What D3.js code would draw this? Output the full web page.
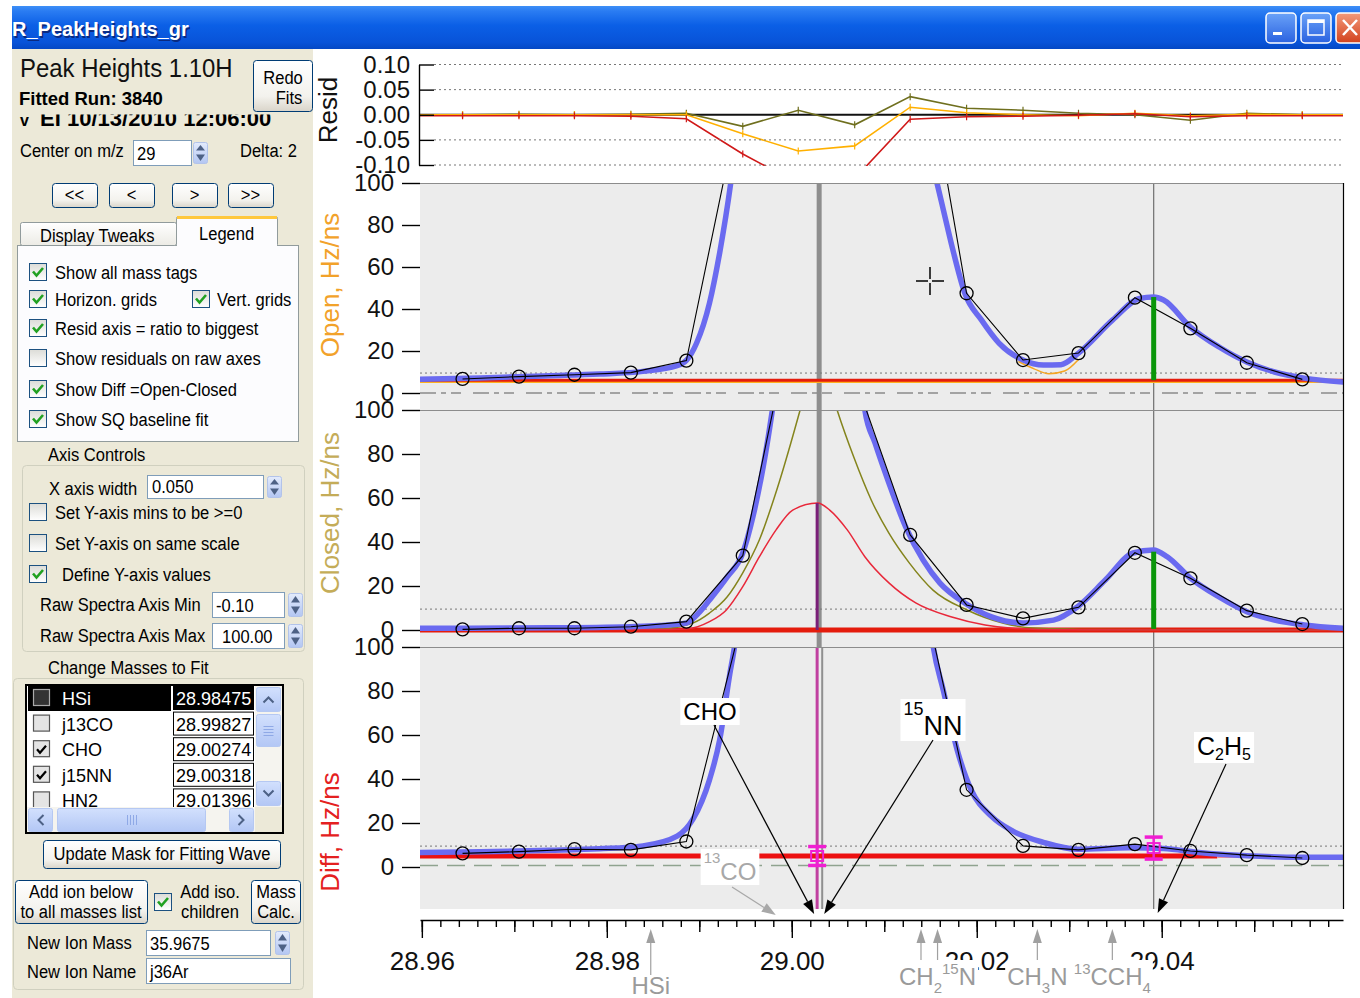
<!DOCTYPE html>
<html>
<head>
<meta charset="utf-8">
<title>R_PeakHeights_gr</title>
<script src="https://cdn.jsdelivr.net/npm/d3@7/dist/d3.min.js"></script>
<style>
  body { margin: 0; background: #fff; overflow: hidden; }
  svg { display: block; font-family: "Liberation Sans", Arial, sans-serif; }
</style>
</head>
<body>
<div class="chart"></div>
<script>
// ---- data ----
// raw spectrum points (mass, Hz/ns); the ones far above 100 are off scale estimates
let massPts = [28.9644, 28.9705, 28.9765, 28.9826, 28.9886, 28.9947, 29.0007, 29.0068,
               29.0128, 29.0189, 29.0250, 29.0310, 29.0371, 29.0431, 29.0492, 29.0552];
let openRaw   = [6.7, 7.8, 8.7, 9.7, 15.4, 144.8, 560, 480, 202, 47.5, 15.7, 19.0, 45.4, 30.8, 14.4, 6.5];
let closedRaw = [0.3, 0.8, 0.8, 1.5, 3.8, 33.8, 155, 115, 43.2, 11.4, 5.3, 10.3, 35.1, 23.5, 8.8, 2.7];
let diffRaw   = [6.2, 7.0, 8.1, 7.8, 11.6, 113.7, 420, 370, 151, 35.1, 9.6, 7.8, 10.4, 7.3, 5.4, 4.1];

// residuals (ratio to biggest)
let residOlive  = [0.000, 0.001, 0.000, 0.001, 0.003, -0.023, 0.009, -0.020, 0.036, 0.013, 0.009, 0.003, 0.000, -0.011, 0.003, 0.000];
let residOrange = [0.000, 0.000, 0.000, 0.000, 0.000, -0.038, -0.072, -0.062, 0.015, 0.004, 0.000, -0.002, 0.003, -0.002, 0.001, 0.000];
let residRed    = [-0.002, -0.002, -0.002, -0.003, -0.008, -0.078, -0.137, -0.127, -0.009, -0.004, -0.003, -0.001, 0.002, -0.004, -0.002, -0.002];
let residTicks  = [-0.10, -0.05, 0.00, 0.05, 0.10];
let residTickLabels = ['-0.10', '-0.05', '0.00', '0.05', '0.10'];

// fitted curves
let openFitMass = [28.9598, 28.9663, 28.9738, 28.9792, 28.9839, 28.9876, 28.9886, 28.9897, 28.9911, 28.9922, 28.9934, 28.9945,
  29.0030,
  29.0144, 29.0157, 29.0164, 29.0175, 29.0187, 29.0205, 29.0224, 29.0250, 29.0272, 29.0291, 29.0310, 29.0347,
  29.0376, 29.0391, 29.0402, 29.0431, 29.0462, 29.0492, 29.0522, 29.0554, 29.0596];
let openFit = [6.5, 7.2, 8.2, 9.0, 10.3, 13.0, 15.5, 23.7, 42.8, 66.7, 100, 140,
  1500,
  125, 100, 87, 66.7, 47.6, 34.8, 23.8, 15.7, 13.3, 13.5, 19.0, 34.8,
  45.0, 45.7, 44.3, 31.4, 21.9, 14.8, 10.0, 7.1, 5.2];
let openCompMass = [29.0245, 29.0262, 29.0278, 29.0295, 29.0310];
let openComp = [15.0, 11.5, 9.2, 10.5, 16.0];

let closedFitMass = [28.9598, 28.9738, 28.9825, 28.9857, 28.9886, 28.9900, 28.9911, 28.9930, 28.9947, 28.9958, 28.9969, 28.9979, 28.9990,
  29.0030,
  29.0068, 29.0079, 29.0090, 29.0105, 29.0123, 29.0142, 29.0160, 29.0187, 29.0216, 29.0250, 29.0283,
  29.0309, 29.0339, 29.0369, 29.0391, 29.0406, 29.0431, 29.0462, 29.0492, 29.0522, 29.0554, 29.0596];
let closedFit = [0.8, 1.0, 1.5, 2.0, 3.2, 8.0, 13.6, 24, 35, 51.5, 74, 100, 135,
  1500,
  150, 100, 85, 66.8, 47, 31.8, 21.4, 12.3, 6.0, 3.2, 4.5,
  10.6, 22.7, 35.0, 36.4, 33.3, 23.6, 15.0, 8.3, 4.5, 2.3, 0.8];
let closedCompAMass = [28.9598, 28.9857, 28.9893, 28.9911, 28.9930, 28.9947, 28.9965, 28.9984, 29.0009, 29.0028, 29.0049,
  29.0067, 29.0086, 29.0105, 29.0127, 29.0153, 29.0190, 29.0228, 29.0261, 29.0333, 29.0596];
let closedCompA = [0, 0.5, 3.2, 7.7, 15, 26, 41, 64, 100, 130, 100, 78.6, 59, 44, 30.5, 18, 9, 3.2, 0.9, 0.2, 0];
let closedCompBMass = [28.9598, 28.9846, 28.9886, 28.9911, 28.9929, 28.9947, 28.9965, 28.9983, 29.0001, 29.0028,
  29.0041, 29.0060, 29.0079, 29.0105, 29.0134, 29.0172, 29.0209, 29.0239, 29.0290, 29.0596];
let closedCompB = [0, 0.2, 0.5, 3.8, 9, 19.7, 33.3, 45.5, 54.5, 57.7, 54.5, 45.5, 33.3, 21.4, 12.3, 6.0, 2.3, 0.8, 0.1, 0];

let diffFitMass = [28.9598, 28.9663, 28.9738, 28.9792, 28.9839, 28.9876, 28.9893, 28.9911, 28.9922, 28.9933, 28.9938, 28.9946,
  29.0030,
  29.0144, 29.0153, 29.0164, 29.0179, 29.0194, 29.0216, 29.0239, 29.0272, 29.0309, 29.0365, 29.0402, 29.0440, 29.0492, 29.0551, 29.0596];
let diffFit = [6.6, 6.9, 7.6, 8.3, 9.6, 14.0, 21.6, 39.6, 57.7, 87.8, 100, 130,
  1500,
  130, 100, 80, 53, 35, 23, 16.3, 11.2, 8.1, 8.8, 8.4, 6.6, 5.1, 4.4, 4.4];

// baselines and levels
let openBaseRed = 6.1, openBaseOrange = 5.5, closedBase = 0, diffBase = 5.0;
let diffBaseEnd = 29.0460, diffPinkEnd = 29.0520;
let noiseLevel = 9.5, openSQ = 0, diffSQ = 0.7;

// peak heights and error bars
let choMass = 29.00274, nnMass = 29.00318, c2h5Mass = 29.03913;
let c2h5Open = [6.1, 45.7], c2h5Closed = [0.5, 35.6], choClosed = [0, 57.7];
let errMass = [29.00274, 29.03913], errVal = [5.0, 8.6], errPm = [4.3, 5.0];

// mass tags
let topTagNames = ['CHO', '15NN', 'C2H5', '13CO'];
let topTagMasses = [29.00274, 29.00318, 29.03913, 28.99827];
let bottomTagNames = ['HSi', 'HN2', 'CH2 15N', 'CH3N', '13CCH4'];
let bottomTagMasses = [28.98475, 29.01397, 29.01576, 29.02655, 29.03466];
let tagText = {
  'CHO': [['CHO', 'n']],
  '15NN': [['15', 'sup'], ['NN', 'n']],
  'C2H5': [['C', 'n'], ['2', 'sub'], ['H', 'n'], ['5', 'sub']],
  '13CO': [['13', 'sup'], ['CO', 'n']],
  'HSi': [['HSi', 'n']],
  'HN2': [],
  'CH2 15N': [['CH', 'n'], ['2', 'sub'], ['15', 'sup'], ['N', 'n']],
  'CH3N': [['CH', 'n'], ['3', 'sub'], ['N', 'n']],
  '13CCH4': [['13', 'sup'], ['CCH', 'n'], ['4', 'sub']]
};

let xTickValues = [28.96, 28.98, 29.00, 29.02, 29.04];
let xTickLabels = ['28.96', '28.98', '29.00', '29.02', '29.04'];
let yTickValues = [0, 20, 40, 60, 80, 100];

// list of masses in the panel
let listNames = ['HSi', 'j13CO', 'CHO', 'j15NN', 'HN2'];
let listMasses = ['28.98475', '28.99827', '29.00274', '29.00318', '29.01396'];
let listChecked = [false, false, true, true, false];

// ---- page ----
let svg = d3.select('.chart').append('svg').attr('width', 1360).attr('height', 998);
let defs = svg.append('defs');

function vGrad(id, stops) {
  let gr = defs.append('linearGradient').attr('id', id).attr('x1', 0).attr('y1', 0).attr('x2', 0).attr('y2', 1);
  stops.forEach(s => gr.append('stop').attr('offset', s[0]).attr('stop-color', s[1]));
}
vGrad('gTitle', [[0, '#3d8ff7'], [0.12, '#2a7cf2'], [0.45, '#0b5fe6'], [0.85, '#0853d8'], [1, '#0448c4']]);
vGrad('gBtn', [[0, '#ffffff'], [0.7, '#f3f2ed'], [1, '#d9d4c9']]);
vGrad('gChk', [[0, '#dcdcd7'], [1, '#ffffff']]);
vGrad('gSpin', [[0, '#e3ebfc'], [1, '#b3c6f2']]);
vGrad('gTab', [[0, '#ffffff'], [1, '#ecebe5']]);
vGrad('gTbBtn', [[0, '#6aa2f8'], [1, '#2a62e0']]);
vGrad('gTbClose', [[0, '#f39a7a'], [1, '#d2421e']]);
vGrad('gScroll', [[0, '#d2e0fd'], [1, '#b3c7f5']]);

// window chrome
svg.append('rect').attr('x', 12).attr('y', 6).attr('width', 1348).attr('height', 43).attr('fill', 'url(#gTitle)');
svg.append('text').attr('x', 13.5).attr('y', 37.5).attr('font-size', 20).attr('font-weight', 'bold')
  .attr('fill', '#0a2a80').text('R_PeakHeights_gr');
svg.append('text').attr('x', 12).attr('y', 36).attr('font-size', 20).attr('font-weight', 'bold')
  .attr('fill', '#fff').text('R_PeakHeights_gr');

let tb = svg.append('g');
[1266, 1301].forEach(bx => {
  tb.append('rect').attr('x', bx).attr('y', 13).attr('width', 30).attr('height', 30).attr('rx', 4)
    .attr('fill', 'url(#gTbBtn)').attr('stroke', '#fff').attr('stroke-width', 1.5);
});
tb.append('rect').attr('x', 1273).attr('y', 32).attr('width', 9).attr('height', 3).attr('fill', '#fff');
tb.append('rect').attr('x', 1308).attr('y', 20).attr('width', 16).attr('height', 15).attr('fill', 'none')
  .attr('stroke', '#fff').attr('stroke-width', 1.5);
tb.append('rect').attr('x', 1308).attr('y', 20).attr('width', 16).attr('height', 3).attr('fill', '#fff');
tb.append('rect').attr('x', 1336).attr('y', 13).attr('width', 30).attr('height', 30).attr('rx', 4)
  .attr('fill', 'url(#gTbClose)').attr('stroke', '#fff').attr('stroke-width', 1.5);
tb.append('path').attr('d', 'M1343,20 L1357,35 M1357,20 L1343,35').attr('stroke', '#fff').attr('stroke-width', 2.5);

// ---- left control panel ----
let ctl = svg.append('g');
ctl.append('rect').attr('x', 12).attr('y', 49).attr('width', 301).attr('height', 949).attr('fill', '#ece9d8');

function ui(g, x, y, str, o) {
  o = o || {};
  let t = g.append('text')
    .attr('transform', 'translate(' + x + ',' + y + ') scale(' + (o.sx || 0.87) + ',1)')
    .attr('font-size', o.size || 19)
    .attr('fill', o.fill || '#000')
    .text(str);
  if (o.anchor) t.attr('text-anchor', o.anchor);
  if (o.bold) t.attr('font-weight', 'bold');
  return t;
}
function button(g, x, y, w, h, lines) {
  g.append('rect').attr('x', x + 0.5).attr('y', y + 0.5).attr('width', w).attr('height', h).attr('rx', 3)
    .attr('fill', 'url(#gBtn)').attr('stroke', '#003c74');
  lines.forEach(l => ui(g, l[1], l[2], l[0], {anchor: 'middle'}));
}
function checkbox(g, x, y, on) {
  g.append('rect').attr('x', x + 0.5).attr('y', y + 0.5).attr('width', 17).attr('height', 17)
    .attr('fill', 'url(#gChk)').attr('stroke', '#1c5180');
  if (on) g.append('path').attr('d', 'M' + (x + 4) + ',' + (y + 8.5) + ' l3.5,4 l6.5,-7.5')
    .attr('fill', 'none').attr('stroke', '#21a121').attr('stroke-width', 2.6);
}
function spinner(g, x, y, h) {
  g.append('rect').attr('x', x + 0.5).attr('y', y + 0.5).attr('width', 14).attr('height', h).attr('rx', 2)
    .attr('fill', 'url(#gSpin)').attr('stroke', '#b2c3ea');
  let m = y + h / 2;
  g.append('path').attr('d', 'M' + (x + 3) + ',' + (m - 2) + ' L' + (x + 7.5) + ',' + (y + 3) + ' L' + (x + 12) + ',' + (m - 2) + 'Z').attr('fill', '#4d6185');
  g.append('path').attr('d', 'M' + (x + 3) + ',' + (m + 2) + ' L' + (x + 7.5) + ',' + (y + h - 2) + ' L' + (x + 12) + ',' + (m + 2) + 'Z').attr('fill', '#4d6185');
}
function inputBox(g, x, y, w, h, val, tx) {
  g.append('rect').attr('x', x + 0.5).attr('y', y + 0.5).attr('width', w).attr('height', h)
    .attr('fill', '#fff').attr('stroke', '#7f9db9');
  ui(g, tx || x + 5, y + h - 5, val);
}

ui(ctl, 20, 77, 'Peak Heights 1.10H', {size: 26, sx: 0.92, fill: '#111'});
button(ctl, 253, 60, 59, 51, [['Redo', 283, 84], ['Fits', 289, 104]]);
ui(ctl, 19, 105, 'Fitted Run: 3840', {size: 18.5, sx: 1, bold: true});
defs.append('clipPath').attr('id', 'cDate').append('rect').attr('x', 12).attr('y', 114.5).attr('width', 300).attr('height', 20);
let dateLine = ctl.append('g').attr('clip-path', 'url(#cDate)');
ui(dateLine, 20, 126, 'v', {size: 16, sx: 1, bold: true});
ui(dateLine, 40, 126, 'EI', {size: 22, sx: 1, bold: true});
ui(dateLine, 67, 126, '10/13/2010 12:06:00', {size: 22, sx: 1, bold: true});

ui(ctl, 20, 157, 'Center on m/z');
inputBox(ctl, 133, 140, 58, 25, '29', 137);
spinner(ctl, 193, 142, 21);
ui(ctl, 240, 157, 'Delta: 2');

[[52, '<<'], [109, '<'], [172, '>'], [228, '>>']].forEach(b => {
  button(ctl, b[0], 183, 45, 24, [[b[1], b[0] + 22.5, 201]]);
});

// tab control
ctl.append('rect').attr('x', 17.5).attr('y', 245.5).attr('width', 281).attr('height', 196)
  .attr('fill', '#fcfcfe').attr('stroke', '#919b9c');
ctl.append('rect').attr('x', 20.5).attr('y', 222.5).attr('width', 156).attr('height', 23).attr('rx', 2)
  .attr('fill', 'url(#gTab)').attr('stroke', '#919b9c');
ui(ctl, 40, 242, 'Display Tweaks');
ctl.append('rect').attr('x', 176.5).attr('y', 216.5).attr('width', 101).attr('height', 30).attr('rx', 2)
  .attr('fill', '#fcfcfe').attr('stroke', '#919b9c');
ctl.append('rect').attr('x', 177).attr('y', 216).attr('width', 100).attr('height', 3).attr('fill', '#ffc83c');
ctl.append('rect').attr('x', 177).attr('y', 244).attr('width', 100).attr('height', 3).attr('fill', '#fcfcfe');
ui(ctl, 199, 240, 'Legend');

let legendRows = [
  [272, 'Show all mass tags', true],
  [299, 'Horizon. grids', true],
  [328, 'Resid axis = ratio to biggest', true],
  [358, 'Show residuals on raw axes', false],
  [389, 'Show Diff =Open-Closed', true],
  [419, 'Show SQ baseline fit', true]
];
legendRows.forEach(r => {
  checkbox(ctl, 29, r[0] - 9, r[2]);
  ui(ctl, 55, r[0] + 7, r[1]);
});
checkbox(ctl, 192, 290, true);
ui(ctl, 217, 306, 'Vert. grids');

// axis controls group
ui(ctl, 48, 461, 'Axis Controls');
ctl.append('rect').attr('x', 22.5).attr('y', 465.5).attr('width', 282).attr('height', 186).attr('rx', 4)
  .attr('fill', 'none').attr('stroke', '#d0d0bf');
ui(ctl, 49, 495, 'X axis width');
inputBox(ctl, 147, 475, 116, 23, '0.050', 152);
spinner(ctl, 267, 476, 21);
checkbox(ctl, 29, 503, false);
ui(ctl, 55, 519, 'Set Y-axis mins to be >=0');
checkbox(ctl, 29, 534, false);
ui(ctl, 55, 550, 'Set Y-axis on same scale');
checkbox(ctl, 29, 565, true);
ui(ctl, 62, 581, 'Define Y-axis values');
ui(ctl, 40, 611, 'Raw Spectra Axis Min');
inputBox(ctl, 212, 592, 72, 25, '-0.10', 216);
spinner(ctl, 288, 593, 23);
ui(ctl, 40, 642, 'Raw Spectra Axis Max');
inputBox(ctl, 212, 623, 72, 25, '100.00', 222);
spinner(ctl, 288, 624, 23);

// masses group
ui(ctl, 48, 674, 'Change Masses to Fit');
ctl.append('rect').attr('x', 13.5).attr('y', 678.5).attr('width', 290).attr('height', 311).attr('rx', 4)
  .attr('fill', 'none').attr('stroke', '#d0d0bf');
ctl.append('rect').attr('x', 26).attr('y', 685).attr('width', 257).attr('height', 148)
  .attr('fill', '#fff').attr('stroke', '#000').attr('stroke-width', 2);
defs.append('clipPath').attr('id', 'cList').append('rect').attr('x', 27).attr('y', 686).attr('width', 228).attr('height', 121);
let list = ctl.append('g').attr('clip-path', 'url(#cList)');
listNames.forEach((n, i) => {
  let cy = 698 + i * 25.6;
  let sel = i === 0;
  if (sel) {
    list.append('rect').attr('x', 28).attr('y', cy - 12).attr('width', 143).attr('height', 25).attr('fill', '#000');
  }
  list.append('rect').attr('x', 33.5).attr('y', cy - 8.5).attr('width', 16).attr('height', 16)
    .attr('fill', sel ? '#333' : '#e4e4e4').attr('stroke', sel ? '#aaa' : '#555').attr('stroke-width', 1.2);
  if (listChecked[i]) {
    list.append('path').attr('d', 'M' + 37 + ',' + (cy) + ' l3,3.5 l6,-7').attr('fill', 'none')
      .attr('stroke', '#000').attr('stroke-width', 2.2);
  }
  ui(list, 62, cy + 7, n, {sx: 0.95, fill: sel ? '#fff' : '#000'});
  list.append('rect').attr('x', 173.5).attr('y', cy - 11.5).attr('width', 80).attr('height', 23)
    .attr('fill', sel ? '#000' : '#fff').attr('stroke', '#000');
  ui(list, 176, cy + 7, listMasses[i], {sx: 0.95, fill: sel ? '#fff' : '#000'});
});
// scrollbars
ctl.append('rect').attr('x', 255).attr('y', 686).attr('width', 27).attr('height', 121).attr('fill', '#f5f4ef');
function scrollBtn(x, y, w, h, arrow) {
  ctl.append('rect').attr('x', x + 0.5).attr('y', y + 0.5).attr('width', w).attr('height', h).attr('rx', 2)
    .attr('fill', 'url(#gScroll)').attr('stroke', '#b5c8f2');
  let cx = x + w / 2 + 0.5, cy = y + h / 2 + 0.5, d;
  if (arrow === 'up') d = 'M' + (cx - 5) + ',' + (cy + 3) + ' l5,-5 l5,5';
  if (arrow === 'down') d = 'M' + (cx - 5) + ',' + (cy - 3) + ' l5,5 l5,-5';
  if (arrow === 'left') d = 'M' + (cx + 3) + ',' + (cy - 5) + ' l-5,5 l5,5';
  if (arrow === 'right') d = 'M' + (cx - 3) + ',' + (cy - 5) + ' l5,5 l-5,5';
  if (arrow === 'gripV') d = 'M' + (cx - 5) + ',' + (cy - 4) + ' h10 M' + (cx - 5) + ',' + (cy - 1) + ' h10 M' + (cx - 5) + ',' + (cy + 2) + ' h10 M' + (cx - 5) + ',' + (cy + 5) + ' h10';
  if (arrow === 'gripH') d = 'M' + (cx - 4) + ',' + (cy - 5) + ' v10 M' + (cx - 1) + ',' + (cy - 5) + ' v10 M' + (cx + 2) + ',' + (cy - 5) + ' v10 M' + (cx + 5) + ',' + (cy - 5) + ' v10';
  ctl.append('path').attr('d', d).attr('fill', 'none')
    .attr('stroke', arrow.indexOf('grip') === 0 ? '#8fa9e6' : '#4d6185').attr('stroke-width', arrow.indexOf('grip') === 0 ? 1 : 2);
}
scrollBtn(256, 687, 24, 24, 'up');
scrollBtn(256, 714, 24, 32, 'gripV');
scrollBtn(256, 781, 24, 24, 'down');
ctl.append('rect').attr('x', 27).attr('y', 807).attr('width', 228).attr('height', 25).attr('fill', '#f5f4ef');
scrollBtn(28, 808, 24, 23, 'left');
scrollBtn(57, 808, 148, 23, 'gripH');
scrollBtn(229, 808, 24, 23, 'right');
ctl.append('rect').attr('x', 255).attr('y', 807).attr('width', 27).attr('height', 25).attr('fill', '#ece9d8');

button(ctl, 43, 840, 237, 28, [['Update Mask for Fitting Wave', 162, 860]]);
button(ctl, 15, 880, 132, 43, [['Add ion below', 81, 898], ['to all masses list', 81, 918]]);
checkbox(ctl, 154, 893, true);
ui(ctl, 210, 898, 'Add iso.', {anchor: 'middle'});
ui(ctl, 210, 918, 'children', {anchor: 'middle'});
button(ctl, 251, 880, 49, 43, [['Mass', 276, 898], ['Calc.', 276, 918]]);
ui(ctl, 27, 949, 'New Ion Mass');
inputBox(ctl, 146, 930, 124, 25, '35.9675', 150);
spinner(ctl, 275, 931, 23);
ui(ctl, 27, 978, 'New Ion Name');
inputBox(ctl, 146, 958, 144, 25, 'j36Ar', 150);

// ---- plots ----
let plotL = 420, plotR = 1343;
let x = d3.scaleLinear().domain([28.9598, 29.0596]).range([plotL, plotR]);
let yResid = d3.scaleLinear().domain([-0.10, 0.10]).range([165, 64.5]);
let yOpen = d3.scaleLinear().domain([0, 100]).range([393, 183]);
let yClosed = d3.scaleLinear().domain([0, 100]).range([630, 410]);
let yDiff = d3.scaleLinear().domain([0, 100]).range([867, 647]);

let zip = (a, b) => a.map((m, i) => [m, b[i]]);
let lineOf = (ys, curve) => d3.line().x(d => x(d[0])).y(d => ys(d[1])).curve(curve || d3.curveLinear);

function clip(id, y0, y1) {
  defs.append('clipPath').attr('id', id).append('rect')
    .attr('x', plotL).attr('y', y0).attr('width', plotR - plotL).attr('height', y1 - y0);
}
clip('cResid', 62, 166);
clip('cOpen', 183, 410);
clip('cClosed', 410, 647);
clip('cDiff', 647, 909);

let panels = [
  {ys: yOpen, top: 183, bottom: 410, clip: 'cOpen'},
  {ys: yClosed, top: 410, bottom: 647, clip: 'cClosed'},
  {ys: yDiff, top: 647, bottom: 909, clip: 'cDiff'}
];
let plot = svg.append('g');
panels.forEach(p => {
  plot.append('rect').attr('x', plotL).attr('y', p.top).attr('width', plotR - plotL).attr('height', p.bottom - p.top)
    .attr('fill', '#ececec');
});

// mass marker verticals
plot.append('line').attr('x1', x((choMass + nnMass) / 2)).attr('x2', x((choMass + nnMass) / 2))
  .attr('y1', 183).attr('y2', 647).attr('stroke', '#8e8e8e').attr('stroke-width', 5);
plot.append('line').attr('x1', x(nnMass) + 1).attr('x2', x(nnMass) + 1)
  .attr('y1', 647).attr('y2', 909).attr('stroke', '#909090').attr('stroke-width', 2);
plot.append('line').attr('x1', x(c2h5Mass)).attr('x2', x(c2h5Mass))
  .attr('y1', 183).attr('y2', 909).attr('stroke', '#6f6f6f').attr('stroke-width', 1.2);

// horizontal guide lines
panels.forEach(p => {
  let g = plot.append('g').attr('clip-path', 'url(#' + p.clip + ')');
  g.append('line').attr('x1', plotL).attr('x2', plotR).attr('y1', p.ys(noiseLevel)).attr('y2', p.ys(noiseLevel))
    .attr('stroke', '#777').attr('stroke-width', 1).attr('stroke-dasharray', '2,3');
  p.g = g;
});
panels[0].g.append('line').attr('x1', plotL).attr('x2', plotR).attr('y1', yOpen(openSQ)).attr('y2', yOpen(openSQ))
  .attr('stroke', '#8a8a8a').attr('stroke-width', 1.6).attr('stroke-dasharray', '16,5,5,5,10,12');
panels[2].g.append('line').attr('x1', plotL).attr('x2', plotR).attr('y1', yDiff(diffSQ)).attr('y2', yDiff(diffSQ))
  .attr('stroke', '#8fa38f').attr('stroke-width', 1.6).attr('stroke-dasharray', '18,9');

// open panel
let gO = panels[0].g;
gO.append('line').attr('x1', plotL).attr('x2', plotR).attr('y1', yOpen(openBaseOrange)).attr('y2', yOpen(openBaseOrange))
  .attr('stroke', '#ffb020').attr('stroke-width', 3);
gO.append('line').attr('x1', plotL).attr('x2', plotR).attr('y1', yOpen(openBaseRed)).attr('y2', yOpen(openBaseRed))
  .attr('stroke', '#e41b0c').attr('stroke-width', 3);
gO.append('path').attr('d', lineOf(yOpen, d3.curveMonotoneX)(zip(openCompMass, openComp)))
  .attr('fill', 'none').attr('stroke', '#f5a623').attr('stroke-width', 1.5);

// closed panel
let gC = panels[1].g;
gC.append('line').attr('x1', plotL).attr('x2', plotR).attr('y1', yClosed(closedBase)).attr('y2', yClosed(closedBase))
  .attr('stroke', '#e41b0c').attr('stroke-width', 5);
gC.append('path').attr('d', lineOf(yClosed, d3.curveMonotoneX)(zip(closedCompAMass, closedCompA)))
  .attr('fill', 'none').attr('stroke', '#84841c').attr('stroke-width', 1.5);
gC.append('path').attr('d', lineOf(yClosed, d3.curveMonotoneX)(zip(closedCompBMass, closedCompB)))
  .attr('fill', 'none').attr('stroke', '#e8283a').attr('stroke-width', 1.5);

// diff panel
let gD = panels[2].g;
gD.append('line').attr('x1', plotL).attr('x2', x(diffBaseEnd)).attr('y1', yDiff(diffBase)).attr('y2', yDiff(diffBase))
  .attr('stroke', '#ec1010').attr('stroke-width', 5);
gD.append('line').attr('x1', x(diffBaseEnd)).attr('x2', x(diffPinkEnd)).attr('y1', yDiff(diffBase)).attr('y2', yDiff(diffBase))
  .attr('stroke', '#f39090').attr('stroke-width', 4);
gD.append('line').attr('x1', x(choMass)).attr('x2', x(choMass)).attr('y1', 647).attr('y2', 909)
  .attr('stroke', '#c040a0').attr('stroke-width', 3);

// fits, data
let fits = [[openFitMass, openFit], [closedFitMass, closedFit], [diffFitMass, diffFit]];
let raws = [openRaw, closedRaw, diffRaw];
panels.forEach((p, i) => {
  let fitLine = lineOf(p.ys, d3.curveMonotoneX)(zip(fits[i][0], fits[i][1]));
  p.g.append('path').attr('d', fitLine).attr('fill', 'none').attr('stroke', '#6a6af0')
    .attr('stroke-width', 5.5).attr('stroke-linejoin', 'round').attr('stroke-linecap', 'round');
  let pts = zip(massPts, raws[i]);
  p.g.append('path').attr('d', lineOf(p.ys)(pts)).attr('fill', 'none').attr('stroke', '#000').attr('stroke-width', 1.1);
  p.g.selectAll('circle.pt').data(pts).join('circle').attr('class', 'pt')
    .attr('cx', d => x(d[0])).attr('cy', d => p.ys(d[1])).attr('r', 6.5)
    .attr('fill', 'none').attr('stroke', '#000').attr('stroke-width', 1.3);
});

// peak-height sticks
gO.append('line').attr('x1', x(c2h5Mass)).attr('x2', x(c2h5Mass)).attr('y1', yOpen(c2h5Open[0])).attr('y2', yOpen(c2h5Open[1]))
  .attr('stroke', '#0a960a').attr('stroke-width', 5);
gC.append('line').attr('x1', x(c2h5Mass)).attr('x2', x(c2h5Mass)).attr('y1', yClosed(c2h5Closed[0])).attr('y2', yClosed(c2h5Closed[1]))
  .attr('stroke', '#0a960a').attr('stroke-width', 5);
gC.append('line').attr('x1', x(choMass)).attr('x2', x(choMass)).attr('y1', yClosed(choClosed[0])).attr('y2', yClosed(choClosed[1]))
  .attr('stroke', '#7a1f78').attr('stroke-width', 3);

// error bars in diff
errMass.forEach((m, i) => {
  let cx = x(m), yc = yDiff(errVal[i]), y0 = yDiff(errVal[i] - errPm[i]), y1 = yDiff(errVal[i] + errPm[i]);
  gD.append('line').attr('x1', cx).attr('x2', cx).attr('y1', y0).attr('y2', y1).attr('stroke', '#f01ed2').attr('stroke-width', 2.5);
  [y0, y1].forEach(yy => gD.append('line').attr('x1', cx - 9).attr('x2', cx + 9).attr('y1', yy).attr('y2', yy)
    .attr('stroke', '#f01ed2').attr('stroke-width', 3.5));
  gD.append('rect').attr('x', cx - 6).attr('y', yc - 5).attr('width', 12).attr('height', 10)
    .attr('fill', 'none').attr('stroke', '#f01ed2').attr('stroke-width', 2);
});

// panel borders
panels.forEach(p => {
  plot.append('line').attr('x1', plotL).attr('x2', plotR).attr('y1', p.top + 0.5).attr('y2', p.top + 0.5)
    .attr('stroke', '#8c8c8c').attr('stroke-width', 1.2);
});
plot.append('line').attr('x1', plotR + 0.5).attr('x2', plotR + 0.5).attr('y1', 183).attr('y2', 909)
  .attr('stroke', '#000').attr('stroke-width', 1.2);

// residual panel
let gR = plot.append('g').attr('clip-path', 'url(#cResid)');
residTicks.forEach(v => {
  if (v === 0) return;
  plot.append('line').attr('x1', 434).attr('x2', plotR).attr('y1', yResid(v)).attr('y2', yResid(v))
    .attr('stroke', '#777').attr('stroke-width', 1).attr('stroke-dasharray', '2,3');
});
gR.append('line').attr('x1', plotL).attr('x2', plotR).attr('y1', yResid(0)).attr('y2', yResid(0))
  .attr('stroke', '#111').attr('stroke-width', 2.2);
[[residOlive, '#6f6f1e'], [residOrange, '#ffb000'], [residRed, '#d01818']].forEach(s => {
  let pts = zip(massPts, s[0]);
  let ext = [[x.invert(plotL), s[0][0]]].concat(pts, [[x.invert(plotR), s[0][s[0].length - 1]]]);
  gR.append('path').attr('d', lineOf(yResid)(ext))
    .attr('fill', 'none').attr('stroke', s[1]).attr('stroke-width', 1.6);
  pts.forEach(d => gR.append('line').attr('x1', x(d[0])).attr('x2', x(d[0]))
    .attr('y1', yResid(d[1]) - 3.5).attr('y2', yResid(d[1]) + 3.5).attr('stroke', s[1]).attr('stroke-width', 1.2));
});

// ---- axes ----
function styleAxis(g, size) {
  g.attr('font-family', '"Liberation Sans", Arial, sans-serif').attr('font-size', size);
  g.selectAll('.tick line').attr('stroke', '#000').attr('stroke-width', 1.4);
  g.selectAll('.tick text').attr('fill', '#111');
}
let ra = svg.append('g').attr('transform', 'translate(419,0)')
  .call(d3.axisLeft(yResid).tickValues(residTicks).tickSizeInner(-15).tickSizeOuter(0).tickPadding(9)
    .tickFormat((d, i) => residTickLabels[i]));
styleAxis(ra, 24);
ra.select('.domain').attr('stroke', '#000').attr('stroke-width', 1.4);

panels.forEach(p => {
  let a = svg.append('g').attr('transform', 'translate(' + plotL + ',0)')
    .call(d3.axisLeft(p.ys).tickValues(yTickValues).tickSize(18).tickPadding(8));
  a.select('.domain').remove();
  styleAxis(a, 24);
});

let xa = svg.append('g').attr('transform', 'translate(0,920)');
xa.append('g').call(d3.axisBottom(x).tickValues(x.ticks(50)).tickSize(7).tickSizeOuter(0).tickFormat(''))
  .call(g => g.select('.domain').remove()).call(g => styleAxis(g, 26));
xa.append('g').call(d3.axisBottom(x).tickValues(x.ticks(10)).tickSize(12).tickSizeOuter(0).tickFormat(''))
  .call(g => g.select('.domain').remove()).call(g => styleAxis(g, 26));
let xMajor = xa.append('g').call(d3.axisBottom(x).tickValues(xTickValues).tickSize(18).tickSizeOuter(0).tickPadding(14)
  .tickFormat((d, i) => xTickLabels[i]));
styleAxis(xMajor, 26);
xMajor.select('.domain').attr('stroke', '#000').attr('stroke-width', 1.4);

// axis titles
[['Resid', 328, 110, '#111'], ['Open, Hz/ns', 330, 285, '#f2a22a'],
 ['Closed, Hz/ns', 330, 513, '#c4ac58'], ['Diff, Hz/ns', 330, 832, '#e42020']].forEach(t => {
  svg.append('text').attr('transform', 'translate(' + (t[1] + 9) + ',' + t[2] + ') rotate(-90)')
    .attr('text-anchor', 'middle').attr('font-size', 26).attr('fill', t[3]).text(t[0]);
});

// ---- mass tags ----
function richText(g, x0, y0, parts, o) {
  let t = g.append('text').attr('x', x0).attr('y', y0).attr('font-size', o.fs).attr('fill', o.fill)
    .attr('text-anchor', 'middle');
  let shift = 0;
  parts.forEach(p => {
    let target = p[1] === 'sup' ? -o.supDy : p[1] === 'sub' ? o.subDy : 0;
    t.append('tspan').attr('dy', target - shift).attr('font-size', p[1] === 'n' ? o.fs : o.smallFs).text(p[0]);
    shift = target;
  });
  return t;
}
function labelBox(g, t, pad) {
  let b = t.node().getBBox();
  g.insert('rect', function () { return t.node(); })
    .attr('x', b.x - pad).attr('y', b.y).attr('width', b.width + 2 * pad).attr('height', b.height).attr('fill', '#fff');
}
function arrow(g, x1, y1, x2, y2, color, len, hw) {
  let a = Math.atan2(y2 - y1, x2 - x1);
  let bx = x2 - len * Math.cos(a), by = y2 - len * Math.sin(a);
  g.append('line').attr('x1', x1).attr('y1', y1).attr('x2', bx).attr('y2', by).attr('stroke', color).attr('stroke-width', 1.2);
  g.append('path').attr('d', 'M' + x2 + ',' + y2 + ' L' + (bx + hw * Math.sin(a)) + ',' + (by - hw * Math.cos(a)) +
    ' L' + (bx - hw * Math.sin(a)) + ',' + (by + hw * Math.cos(a)) + 'Z').attr('fill', color);
}

// label placement for the tags drawn inside the diff panel
let topTagLayout = [
  {lx: 710, ly: 720, sx: 714, sy: 725, dx: -3, ey: 914, fs: 24, supDy: 20, subDy: 5, smallFs: 17, fill: '#000'},
  {lx: 933, ly: 735, sx: 933, sy: 740, dx: 3, ey: 914, fs: 27, supDy: 20, subDy: 5, smallFs: 18, fill: '#000'},
  {lx: 1224, ly: 755, sx: 1226, sy: 764, dx: 4, ey: 913, fs: 25, supDy: 18, subDy: 5, smallFs: 16, fill: '#000'},
  {lx: 730, ly: 880, sx: 732, sy: 887, dx: 0, ey: 915, fs: 24, supDy: 17, subDy: 5, smallFs: 15, fill: '#a8a8a8'}
];
let tagG = svg.append('g');
topTagNames.forEach((n, i) => {
  let L = topTagLayout[i];
  let t = richText(tagG, L.lx, L.ly, tagText[n], L);
  labelBox(tagG, t, 3);
  arrow(tagG, L.sx, L.sy, x(topTagMasses[i]) + L.dx, L.ey, i === 3 ? '#a8a8a8' : '#000', 14, 5);
});

let bottomTagLayout = [
  {ly: 994, top: 975},
  {ly: 985, top: 960},
  {ly: 985, top: 960},
  {ly: 985, top: 960},
  {ly: 985, top: 960}
];
bottomTagNames.forEach((n, i) => {
  let L = bottomTagLayout[i];
  let mx = x(bottomTagMasses[i]);
  if (tagText[n].length) {
    let t = richText(tagG, mx, L.ly, tagText[n], {fs: 24, fill: '#9a9a9a', supDy: 11, subDy: 8, smallFs: 15});
    labelBox(tagG, t, 2);
  }
  arrow(tagG, mx, L.top, mx, 929, '#a0a0a0', 14, 4.5);
});

// cursor crosshair
let cur = svg.append('g').attr('stroke', '#000').attr('stroke-width', 1.5);
cur.append('path').attr('d', 'M916,281 H928 M932,281 H944 M930,267 V279 M930,283 V295');
</script>
</body>
</html>
